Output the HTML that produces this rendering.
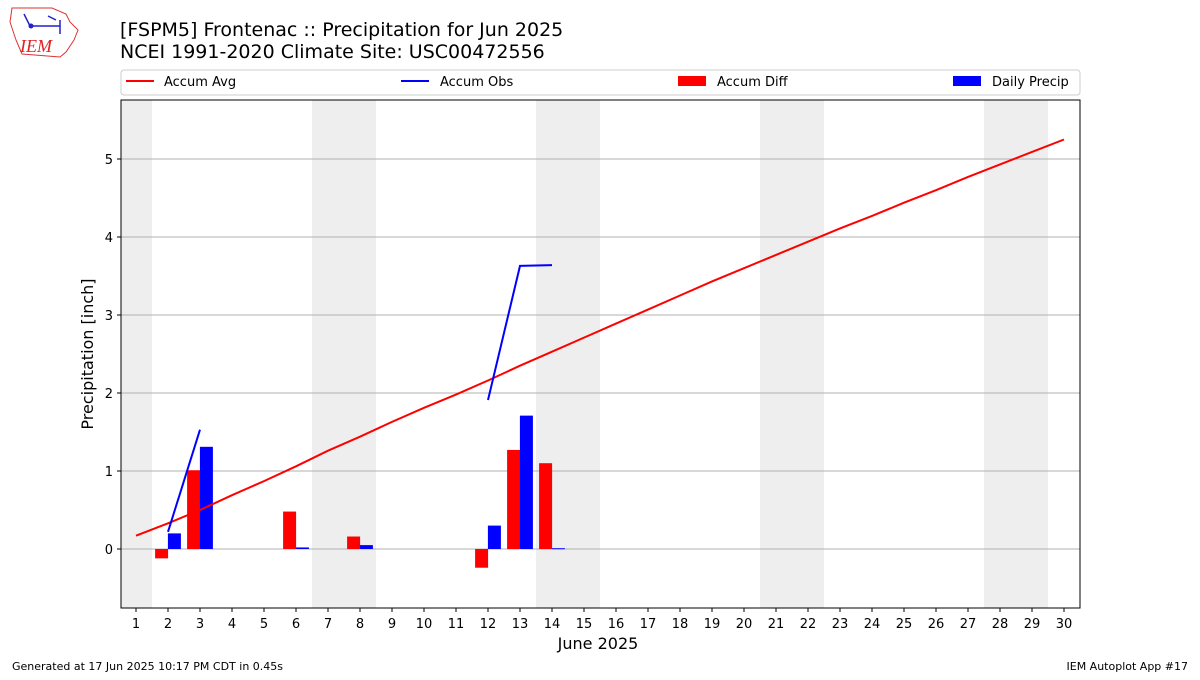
<!DOCTYPE html>
<html><head><meta charset="utf-8"><style>
body{margin:0;background:#fff;width:1200px;height:675px;overflow:hidden;font-family:"Liberation Sans","DejaVu Sans",sans-serif}
</style></head><body>
<svg id="c" width="1200" height="675" xmlns="http://www.w3.org/2000/svg" font-family="DejaVu Sans, Liberation Sans, sans-serif">
<g>
<path d="M12,8 L52,8 L66,14 L70,22 L78,30 L74,40 L66,52 L60,57 L22,54 L16,40 L10,22 Z" fill="none" stroke="#d33" stroke-width="1"/>
<text x="20" y="52" font-family="Liberation Serif, serif" font-style="italic" font-size="18" fill="#d22">IEM</text>
<path d="M24,14 L30,26 L60,26 M48,16 L56,20 M60,20 L60,34" stroke="#22c" stroke-width="1.5" fill="none"/>
<circle cx="31" cy="26" r="2.5" fill="#22c"/>
</g>
<text x="120" y="36" font-size="19" fill="#000">[FSPM5] Frontenac :: Precipitation for Jun 2025</text>
<text x="120" y="58" font-size="19" fill="#000">NCEI 1991-2020 Climate Site: USC00472556</text>
<g>
<rect x="121" y="70" width="959" height="25" rx="3" fill="#fff" stroke="#ccc"/>
<g><line x1="126" y1="81" x2="154" y2="81" stroke="red" stroke-width="2"/><text x="164" y="86" font-size="13">Accum Avg</text></g>
<g><line x1="401" y1="81" x2="429" y2="81" stroke="blue" stroke-width="2"/><text x="440" y="86" font-size="13">Accum Obs</text></g>
<g><rect x="678" y="76" width="28" height="10" fill="red"/><text x="717" y="86" font-size="13">Accum Diff</text></g>
<g><rect x="953" y="76" width="28" height="10" fill="blue"/><text x="992" y="86" font-size="13">Daily Precip</text></g>
</g>
<g id="plot"></g>
<text x="12" y="670" font-size="11">Generated at 17 Jun 2025 10:17 PM CDT in 0.45s</text>
<text x="1188" y="670" font-size="11" text-anchor="end">IEM Autoplot App #17</text>
</svg>
<script>
const days=[];for(let d=1;d<=30;d++)days.push(d);
const accumAvg=[0.17,0.33,0.50,0.69,0.87,1.06,1.26,1.44,1.63,1.81,1.98,2.16,2.35,2.53,2.71,2.89,3.07,3.25,3.43,3.60,3.77,3.94,4.11,4.27,4.44,4.60,4.77,4.93,5.09,5.25];
const obsSeg1Days=[2,3];const obsSeg1=[0.22,1.53];
const obsSeg2Days=[12,13,14];const obsSeg2=[1.91,3.63,3.64];
const barDays=[2,3,6,8,12,13,14];
const dailyPrecip=[0.20,1.31,0.02,0.05,0.30,1.71,0.01];
const accumDiff=[-0.12,1.01,0.48,0.16,-0.24,1.27,1.10];
const weekendDays=[1,7,8,14,15,21,22,28,29];
const yTicks=[0,1,2,3,4,5];
const NS="http://www.w3.org/2000/svg";
const L=121,R=1080,T=100,B=608;
const x=d=>136+(d-1)*32;
const y=v=>549-v*78;
const g=document.getElementById('plot');
function mk(tag,at){const e=document.createElementNS(NS,tag);for(const k in at)e.setAttribute(k,at[k]);g.appendChild(e);return e;}
weekendDays.forEach(d=>{const r=mk('rect',{x:Math.max(L,x(d-0.5)),y:T,width:Math.min(R,x(d+0.5))-Math.max(L,x(d-0.5)),height:B-T,fill:'#eeeeee'});

});
yTicks.forEach(v=>{const l=mk('line',{x1:L,x2:R,y1:y(v),y2:y(v),stroke:'#b0b0b0','stroke-width':1});


mk('line',{x1:L-4,x2:L,y1:y(v),y2:y(v),stroke:'#000'});
const t=mk('text',{x:L-8,y:y(v)+5,'font-size':13,'text-anchor':'end'});t.textContent=v;

});
const bw=13;
barDays.forEach((d,i)=>{
 const v=accumDiff[i];const r=mk('rect',{x:x(d-0.2)-bw/2,y:Math.min(y(v),y(0)),width:bw,height:Math.abs(y(v)-y(0)),fill:'red'});
 
 
 const p=dailyPrecip[i];const b=mk('rect',{x:x(d+0.2)-bw/2,y:y(p),width:bw,height:Math.max(1,y(0)-y(p)),fill:'blue'});
 
 
});
const avg=mk('polyline',{points:days.map((d,i)=>x(d)+','+y(accumAvg[i])).join(' '),fill:'none',stroke:'red','stroke-width':2});


[[obsSeg1Days,obsSeg1],[obsSeg2Days,obsSeg2]].forEach(([ds,vs])=>{
 const o=mk('polyline',{points:ds.map((d,i)=>x(d)+','+y(vs[i])).join(' '),fill:'none',stroke:'blue','stroke-width':2});
 
 
});
const fr=mk('rect',{x:L,y:T,width:R-L,height:B-T,fill:'none',stroke:'#000','stroke-width':1});


days.forEach(d=>{mk('line',{x1:x(d),x2:x(d),y1:B,y2:B+4,stroke:'#000'});
const t=mk('text',{x:x(d),y:B+20,'font-size':13,'text-anchor':'middle'});t.textContent=d;

});
const xt=mk('text',{x:598,y:649,'font-size':16,'text-anchor':'middle'});xt.textContent='June 2025';


const yt=mk('text',{x:93,y:354,'font-size':16,'text-anchor':'middle',transform:'rotate(-90 93 354)'});yt.textContent='Precipitation [inch]';


</script>
</body></html>
